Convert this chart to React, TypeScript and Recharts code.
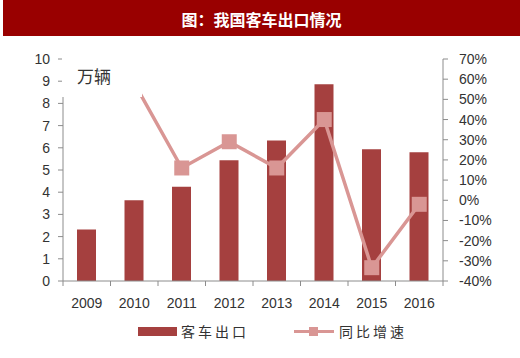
import { ComposedChart, Bar, Line, XAxis, YAxis, Legend } from 'recharts'

const YEARS = ['2009', '2010', '2011', '2012', '2013', '2014', '2015', '2016']
const EXPORTS = [2.32, 3.64, 4.24, 5.44, 6.33, 8.86, 5.93, 5.8]
const GROWTH = [null, 0.58, 0.16, 0.29, 0.16, 0.4, -0.334, -0.02]
const LEFT_TICKS = [0, 1, 2, 3, 4, 5, 6, 7, 8, 9, 10]
const RIGHT_TICKS = [-0.4, -0.3, -0.2, -0.1, 0, 0.1, 0.2, 0.3, 0.4, 0.5, 0.6, 0.7]

const BAR_COLOR = '#A5403F'
const LINE_COLOR = '#D99694'
const AXIS_COLOR = '#8C8C8C'
const TEXT_COLOR = '#333'
const FONT = '"Liberation Sans", "Noto Sans CJK SC", sans-serif'
const CJK = '"Noto Sans CJK SC", sans-serif'

const data = YEARS.map((year, i) => ({ year, exports: EXPORTS[i], growth: GROWTH[i] }))

// excel-style category ticks sit on the band edges, not the centres
const HALF_BAND = 380 / YEARS.length / 2

function YearTick(props: any) {
  const { x, y, payload, index } = props
  return (
    <g>
      <line x1={x - HALF_BAND} y1={y} x2={x - HALF_BAND} y2={y + 5} stroke={AXIS_COLOR} />
      {index === YEARS.length - 1 && (
        <line x1={x + HALF_BAND} y1={y} x2={x + HALF_BAND} y2={y + 5} stroke={AXIS_COLOR} />
      )}
      <text x={x} y={y + 27} textAnchor="middle" fontSize={14} fill={TEXT_COLOR} fontFamily={FONT}>
        {payload.value}
      </text>
    </g>
  )
}

function SquareDot(props: any) {
  const { cx, cy, index } = props
  if (cx == null || cy == null || props.value == null) return <g key={index} />
  return <rect key={index} x={cx - 7.5} y={cy - 7.5} width={15} height={15} fill={LINE_COLOR} />
}

function LegendBox() {
  return (
    <div style={{ display: 'flex', alignItems: 'center', height: 20, paddingLeft: 138, fontFamily: CJK, fontSize: 14, color: TEXT_COLOR, letterSpacing: 3 }}>
      <span style={{ width: 39, height: 9, background: BAR_COLOR, display: 'inline-block' }} />
      <span style={{ marginLeft: 4 }}>客车出口</span>
      <span style={{ position: 'relative', width: 40, height: 9, marginLeft: 45, display: 'inline-block' }}>
        <span style={{ position: 'absolute', left: 0, top: 3, width: 40, height: 3, background: LINE_COLOR }} />
        <span style={{ position: 'absolute', left: 15, top: 0, width: 9, height: 9, background: LINE_COLOR }} />
      </span>
      <span style={{ marginLeft: 5 }}>同比增速</span>
    </div>
  )
}

export default function App() {
  return (
    <div style={{ position: 'absolute', left: 0, top: 0, width: 520, height: 358, background: '#fff' }}>
      <div
        style={{
          position: 'absolute', left: 3, top: 0, width: 517, height: 36, background: '#990000',
          color: '#fff', fontFamily: CJK, fontWeight: 'bold', fontSize: 16, lineHeight: '38px', textAlign: 'center', zIndex: 2,
        }}
      >
        图：我国客车出口情况
      </div>
      <ComposedChart width={520} height={358} data={data} margin={{ top: 59, right: 27, bottom: 17, left: 23 }}>
        <XAxis
          dataKey="year"
          xAxisId={0}
          height={40}
          stroke={AXIS_COLOR}
          tickLine={false}
          tickSize={0}
          tickMargin={0}
          tick={<YearTick />}
          interval={0}
        />
        <YAxis
          yAxisId="left"
          orientation="left"
          width={40}
          domain={[0, 10]}
          ticks={LEFT_TICKS}
          interval={0}
          stroke={AXIS_COLOR}
          tickSize={5}
          tickMargin={8}
          tick={{ fill: TEXT_COLOR, fontSize: 14, fontFamily: FONT }}
        />
        <YAxis
          yAxisId="right"
          orientation="right"
          width={50}
          domain={[-0.4, 0.7]}
          ticks={RIGHT_TICKS}
          interval={0}
          stroke={AXIS_COLOR}
          tickSize={5}
          tickMargin={11}
          tickFormatter={(v: number) => `${Math.round(v * 100)}%`}
          tick={{ fill: TEXT_COLOR, fontSize: 14, fontFamily: FONT, textAnchor: 'start' }}
        />
        <Bar yAxisId="left" dataKey="exports" name="客车出口" fill={BAR_COLOR} barSize={19} isAnimationActive={false} />
        <Line
          yAxisId="right"
          dataKey="growth"
          name="同比增速"
          stroke={LINE_COLOR}
          strokeWidth={3.5}
          dot={<SquareDot />}
          activeDot={false}
          type="linear"
          isAnimationActive={false}
        />
        <Legend verticalAlign="bottom" content={<LegendBox />} wrapperStyle={{ left: 0, width: 520 }} />
      </ComposedChart>
      {/* unit label box — white fill hides the top of the axis and the 2010 point, as in the source */}
      <div
        style={{
          position: 'absolute', left: 62, top: 55, width: 80, height: 42, background: '#fff',
          fontFamily: CJK, fontSize: 17, color: TEXT_COLOR, zIndex: 2,
        }}
      >
        <span style={{ position: 'absolute', left: 15, top: 8 }}>万辆</span>
      </div>
    </div>
  )
}
